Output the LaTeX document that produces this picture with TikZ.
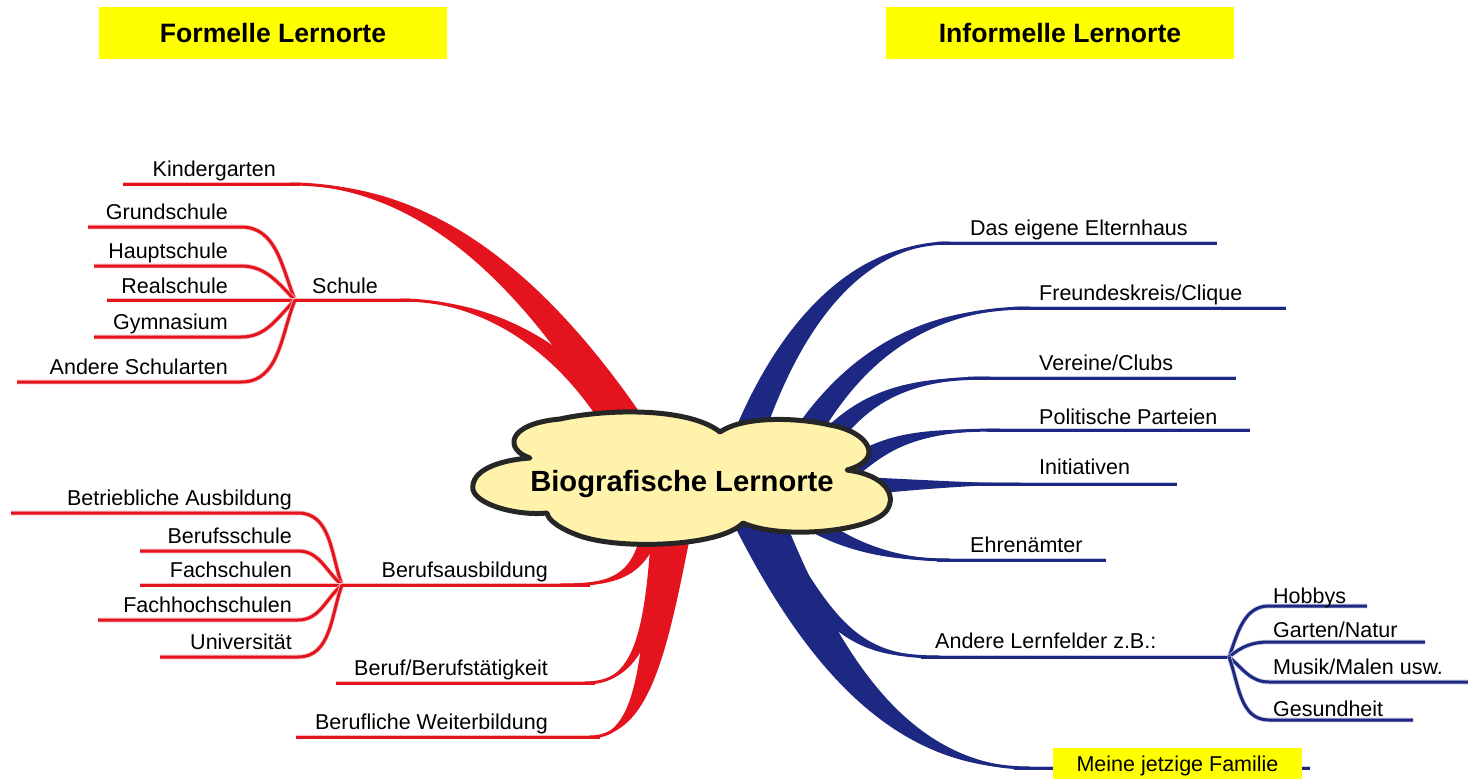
\documentclass[tikz,border=0pt]{standalone}
\usepackage{fontspec}
\setmainfont{Liberation Sans}
\usetikzlibrary{calc}
\definecolor{mred}{RGB}{228,20,30}
\definecolor{mblue}{RGB}{28,40,130}
\definecolor{cloudfill}{RGB}{255,242,170}
\definecolor{titley}{RGB}{255,255,0}
% #1 colour, #2 thin end, #3 control 1, #4 control 2, #5 thick end, #6 half width
\newcommand\taperbranch[6]{%
  \pgfmathsetmacro\tbh{#6}\pgfmathsetmacro\tbc{0.7*#6}\pgfmathsetmacro\tba{0.25*#6}%
  \fill[#1] (#2) .. controls ($(#3)!\tba pt!-90:(#4)$) and ($(#4)!\tbc pt!-90:(#5)$) .. ($(#5)!\tbh pt!90:(#4)$)
     -- ($(#5)!\tbh pt!-90:(#4)$) .. controls ($(#4)!\tbc pt!90:(#5)$) and ($(#3)!\tba pt!90:(#4)$) .. (#2) -- cycle;
  \draw[#1, line width=3pt] (#2) .. controls (#3) and (#4) .. (#5);}
\tikzset{
  lbl/.style={font=\fontsize{21.5}{24}\selectfont, inner sep=0pt},
  ttl/.style={font=\bfseries\fontsize{26.6}{30}\selectfont, fill=titley, minimum width=348pt, minimum height=52pt, inner sep=0pt},
  redline/.style={draw=mred, line width=3pt, preaction={draw=mred!30, line width=4.6pt}},
  blueline/.style={draw=mblue, line width=3pt, preaction={draw=mblue!25, line width=4.6pt}},
}
\begin{document}
\begin{tikzpicture}[x=1pt,y=-1pt]
\useasboundingbox (0,0) rectangle (1468,779);

% hubs
\coordinate (hs) at (295,300);
\coordinate (hb) at (342,585);
\coordinate (ha) at (1229,657);

% ---------- red thin lines ----------
\draw[redline] (123,184) -- (300,184);
\draw[redline] (88,227) -- (241,227) to[out=0,in=112] (hs);
\draw[redline] (94,266) -- (241,266) to[out=0,in=135] (hs);
\draw[redline] (107,300) -- (hs);
\draw[redline] (94,337) -- (241,337) to[out=0,in=-135] (hs);
\draw[redline] (17,382) -- (241,382) to[out=0,in=-112] (hs);
\draw[redline] (hs) -- (410,300);

\draw[redline] (11,513) -- (298,513) to[out=0,in=110] (hb);
\draw[redline] (140,551) -- (298,551) to[out=0,in=140] (hb);
\draw[redline] (140,585) -- (hb);
\draw[redline] (98,620) -- (298,620) to[out=0,in=-140] (hb);
\draw[redline] (160,657) -- (298,657) to[out=0,in=-110] (hb);
\draw[redline] (hb) -- (590,585);
\draw[redline] (336,683) -- (595,683);
\draw[redline] (296,737) -- (600,737);

% ---------- red thick branches ----------
\taperbranch{mred}{290,184}{420,184}{530,268}{640,445}{18}
\taperbranch{mred}{400,300}{500,300}{580,360}{630,445}{14}
\taperbranch{mred}{560,585}{620,585}{642,575}{655,515}{10}
\taperbranch{mred}{585,683}{635,683}{652,640}{662,520}{10}
\taperbranch{mred}{590,737}{648,737}{655,640}{674,515}{20}

% ---------- blue thin lines ----------
\draw[blueline] (937,243) -- (1217,243);
\draw[blueline] (1014,308) -- (1286,308);
\draw[blueline] (968,378) -- (1236,378);
\draw[blueline] (987,430) -- (1250,430);
\draw[blueline] (880,484) -- (1177,484);
\draw[blueline] (937,560) -- (1106,560);
\draw[blueline] (921,657) -- (ha);
\draw[blueline] (ha) to[out=70,in=180] (1269,606) -- (1367,606);
\draw[blueline] (ha) to[out=40,in=180] (1269,642) -- (1425,642);
\draw[blueline] (ha) to[out=-40,in=180] (1269,682) -- (1468,682);
\draw[blueline] (ha) to[out=-70,in=180] (1269,720) -- (1413,720);
\draw[blueline] (1014,768) -- (1310,768);

% ---------- blue thick branches ----------
\taperbranch{mblue}{950,243}{860,243}{790,320}{745,445}{15}
\taperbranch{mblue}{1030,308}{920,308}{850,360}{800,445}{13}
\taperbranch{mblue}{990,378}{900,378}{860,400}{820,450}{11}
\taperbranch{mblue}{1000,430}{920,430}{890,440}{855,465}{10}
\taperbranch{mblue}{1020,484}{950,484}{900,485}{860,486}{9}
\taperbranch{mblue}{950,560}{880,560}{830,540}{790,505}{11}
\taperbranch{mblue}{1030,768}{900,768}{820,660}{752,505}{25}
\taperbranch{mblue}{940,657}{870,657}{838,640}{785,555}{10}

% ---------- central cloud ----------
\path[fill=cloudfill, draw=black!85, line width=5pt, line join=round]
  (530,458) .. controls (505,450) and (505,424) .. (560,419)
  .. controls (610,408) and (690,408) .. (720,432)
  .. controls (745,415) and (800,418) .. (830,425)
  .. controls (870,432) and (885,460) .. (847,470)
  .. controls (885,475) and (897,495) .. (887,510)
  .. controls (872,532) and (780,540) .. (743,523)
  .. controls (720,547) and (620,550) .. (580,536)
  .. controls (560,529) and (548,520) .. (547,513)
  .. controls (520,516) and (478,506) .. (473,490)
  .. controls (470,470) and (500,460) .. (530,458) -- cycle;
\node[font=\bfseries\fontsize{29.2}{33}\selectfont, inner sep=0pt, anchor=base] (core) at (682,491) {Biografische Lernorte};

% ---------- labels ----------
\node[lbl, anchor=base east] (kg) at (276,176) {Kindergarten};
\node[lbl, anchor=base east] (gs) at (228,219) {Grundschule};
\node[lbl, anchor=base east] (hps) at (228,258) {Hauptschule};
\node[lbl, anchor=base east] (rs) at (228,293) {Realschule};
\node[lbl, anchor=base east] (gy) at (228,329) {Gymnasium};
\node[lbl, anchor=base east] (as) at (228,374) {Andere Schularten};
\node[lbl, anchor=base west] (sch) at (312,293) {Schule};

\node[lbl, anchor=base east] (ba) at (292,505) {Betriebliche Ausbildung};
\node[lbl, anchor=base east] (bs) at (292,543) {Berufsschule};
\node[lbl, anchor=base east] (fs) at (292,577) {Fachschulen};
\node[lbl, anchor=base east] (fhs) at (292,612) {Fachhochschulen};
\node[lbl, anchor=base east] (uni) at (292,649) {Universität};
\node[lbl, anchor=base east] (bab) at (548,577) {Berufsausbildung};
\node[lbl, anchor=base east] (bt) at (548,675) {Beruf/Berufstätigkeit};
\node[lbl, anchor=base east] (bw) at (548,729) {Berufliche Weiterbildung};

\node[lbl, anchor=base west] (eh) at (970,235) {Das eigene Elternhaus};
\node[lbl, anchor=base west] (fk) at (1039,300) {Freundeskreis/Clique};
\node[lbl, anchor=base west] (vc) at (1039,370) {Vereine/Clubs};
\node[lbl, anchor=base west] (pp) at (1039,424) {Politische Parteien};
\node[lbl, anchor=base west] (in) at (1039,474) {Initiativen};
\node[lbl, anchor=base west] (ea) at (970,552) {Ehrenämter};
\node[lbl, anchor=base west] (al) at (935,648) {Andere Lernfelder z.B.:};
\node[lbl, anchor=base west] (hb1) at (1273,603) {Hobbys};
\node[lbl, anchor=base west] (gn) at (1273,637) {Garten/Natur};
\node[lbl, anchor=base west] (mm) at (1273,674) {Musik/Malen usw.};
\node[lbl, anchor=base west] (ge) at (1273,716) {Gesundheit};

\node[fill=titley, minimum width=249pt, minimum height=40pt, inner sep=0pt] (famb) at (1177.5,768) {};
\node[lbl, anchor=base] (fam) at (1177.5,771) {Meine jetzige Familie};

% ---------- titles ----------
\node[ttl] (tf) at (273,33) {Formelle Lernorte};
\node[ttl] (ti) at (1060,33) {Informelle Lernorte};
\end{tikzpicture}
\end{document}
